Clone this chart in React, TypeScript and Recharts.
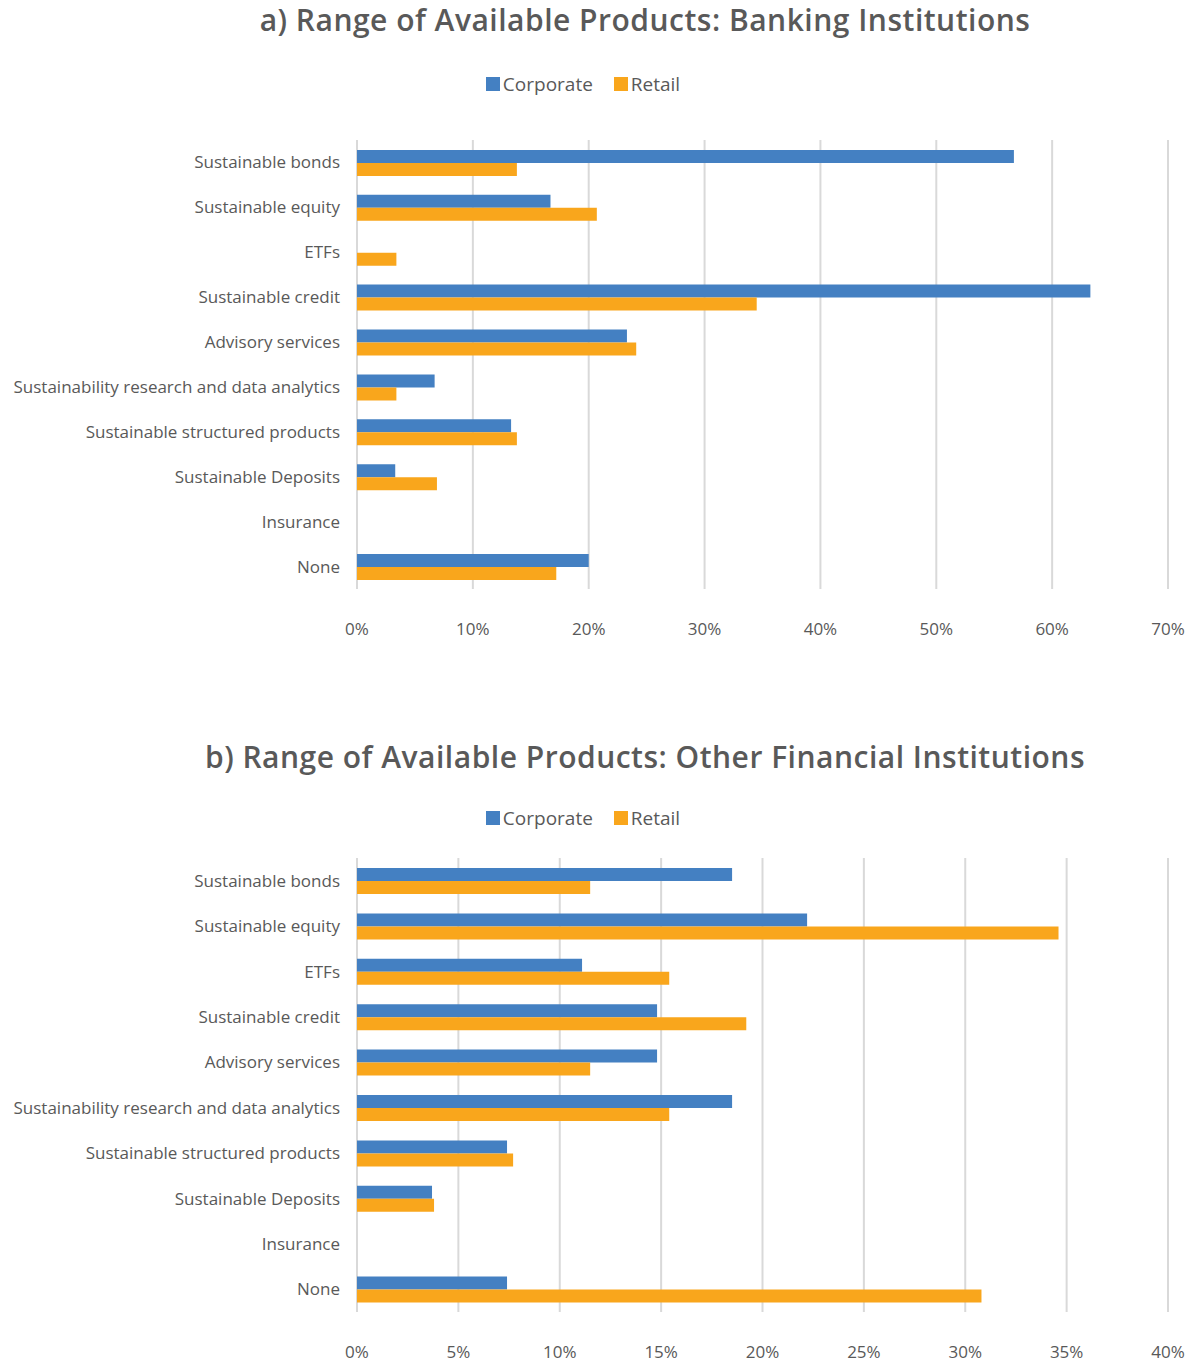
import React from 'react'
import { BarChart, Bar, XAxis, YAxis, CartesianGrid, Legend } from 'recharts'

const categories = [
  'Sustainable bonds',
  'Sustainable equity',
  'ETFs',
  'Sustainable credit',
  'Advisory services',
  'Sustainability research and data analytics',
  'Sustainable structured products',
  'Sustainable Deposits',
  'Insurance',
  'None',
]

// a) banking institutions, % of respondents
const bankCorporate = [56.7, 16.7, 0, 63.3, 23.3, 6.7, 13.3, 3.3, 0, 20.0]
const bankRetail = [13.8, 20.7, 3.4, 34.5, 24.1, 3.4, 13.8, 6.9, 0, 17.2]
const bankTicks = [0, 10, 20, 30, 40, 50, 60, 70]

// b) other financial institutions
const otherCorporate = [18.5, 22.2, 11.1, 14.8, 14.8, 18.5, 7.4, 3.7, 0, 7.4]
const otherRetail = [11.5, 34.6, 15.4, 19.2, 11.5, 15.4, 7.7, 3.8, 0, 30.8]
const otherTicks = [0, 5, 10, 15, 20, 25, 30, 35, 40]

const BLUE = '#4480c2'
const ORANGE = '#f9a61c'
const GREY = '#595959'
const FONT = '"Open Sans", Lato, sans-serif'

const LegendBox = ({ payload }: any) => (
  <div style={{ display: 'flex', justifyContent: 'center', gap: 21, fontFamily: FONT, fontSize: 19, color: GREY }}>
    {(payload || []).map((p: any) => (
      <span key={p.value} style={{ display: 'flex', alignItems: 'center', gap: 3 }}>
        <span style={{ width: 14, height: 14, background: p.color, display: 'inline-block' }} />
        {p.value}
      </span>
    ))}
  </div>
)

type PanelProps = {
  title: string
  corporate: number[]
  retail: number[]
  ticks: number[]
  top: number
  titleY: number
  legendY: number
  plotTop: number
  plotBottom: number
}

function Panel({ title, corporate, retail, ticks, top, titleY, legendY, plotTop, plotBottom }: PanelProps) {
  const data = categories.map((name, i) => ({ name, Corporate: corporate[i], Retail: retail[i] }))
  const height = plotBottom + 60
  return (
    <div style={{ position: 'absolute', left: 0, top, width: 1199, height }}>
      <div
        style={{
          position: 'absolute', top: titleY - 20, left: 0, width: 1290, textAlign: 'center',
          fontFamily: FONT, fontWeight: 600, fontSize: 30, letterSpacing: 0.5, color: GREY, lineHeight: '40px',
        }}
      >
        {title}
      </div>
      <BarChart
        width={1199}
        height={height}
        data={data}
        layout="vertical"
        margin={{ top: plotTop, right: 31, bottom: 0, left: 0 }}
        barCategoryGap="22%"
        barGap={0}
      >
        <CartesianGrid horizontal={false} stroke="#d9d9d9" strokeWidth={2} />
        <XAxis
          type="number"
          domain={[ticks[0], ticks[ticks.length - 1]]}
          ticks={ticks}
          tickFormatter={(v) => `${v}%`}
          axisLine={false}
          tickLine={false}
          tickMargin={28}
          height={60}
          tick={{ fill: GREY, fontSize: 17, fontFamily: FONT }}
        />
        <YAxis
          type="category"
          dataKey="name"
          width={357}
          axisLine={false}
          tickLine={false}
          tickMargin={11}
          interval={0}
          tick={{ fill: GREY, fontSize: 17, fontFamily: FONT }}
        />
        <Legend
          verticalAlign="top"
          content={<LegendBox />}
          wrapperStyle={{ top: legendY - 13, left: 0, width: 1166, height: 0 }}
        />
        <Bar dataKey="Corporate" fill={BLUE} isAnimationActive={false} />
        <Bar dataKey="Retail" fill={ORANGE} isAnimationActive={false} />
      </BarChart>
    </div>
  )
}

export default function App() {
  return (
    <div style={{ position: 'absolute', left: 0, top: 0, width: 1199, height: 1364, background: '#fff' }}>
      <Panel
        title="a) Range of Available Products: Banking Institutions"
        corporate={bankCorporate}
        retail={bankRetail}
        ticks={bankTicks}
        top={0}
        titleY={20}
        legendY={84}
        plotTop={140}
        plotBottom={589}
      />
      <Panel
        title="b) Range of Available Products: Other Financial Institutions"
        corporate={otherCorporate}
        retail={otherRetail}
        ticks={otherTicks}
        top={720}
        titleY={37}
        legendY={98}
        plotTop={138}
        plotBottom={592}
      />
    </div>
  )
}
